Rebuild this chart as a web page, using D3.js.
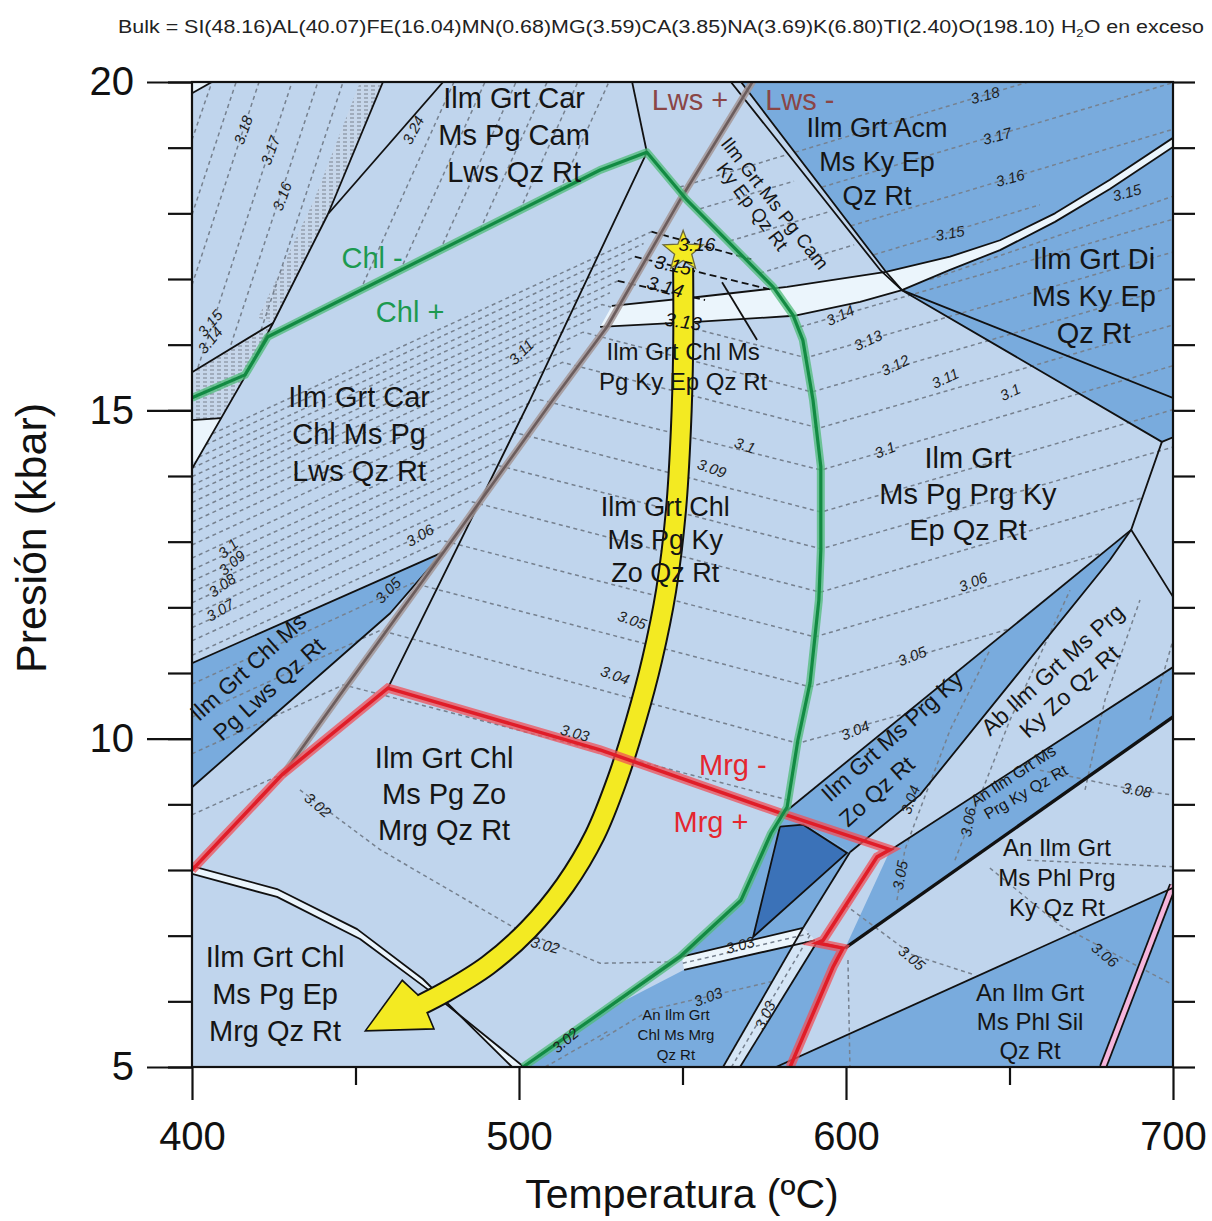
<!DOCTYPE html>
<html><head><meta charset="utf-8">
<script src="https://cdn.jsdelivr.net/npm/d3@7"></script>
<style>
html,body{margin:0;padding:0;background:#fff;}
svg{display:block;font-family:"Liberation Sans",Arial,Helvetica,sans-serif;}
</style></head><body>
<svg id="chart" width="1212" height="1221"></svg>
<script>
// ---------------- DATA (temperature °C, pressure kbar) ----------------
const tempTicks=[400,500,600,700];
const tempMinorTicks=[450,550,650];
const presTicks=[5,10,15,20];
const presMinorTicks=[5,6,7,8,9,10,11,12,13,14,15,16,17,18,19,20];

const regionAcm=[[567.9,20],[700,20],[700,19.15],[680.7,18.51],[663.9,18.00],[647.1,17.59],[631.8,17.34],[612.2,17.11]];
const regionDi=[[617.1,16.83],[631.8,17.14],[647.1,17.44],[663.9,17.87],[680.7,18.37],[700,19.01],[700,14.59],[696.6,14.52]];
const regionPrgKyZo=[[581.3,8.88],[687.2,13.18],[680.7,12.72],[622.6,9.14],[601.2,8.27]];
const regionAnPrgKy=[[613.5,8.30],[700,11.09],[700,10.33],[599.7,6.81]];
const regionPhlSil=[[578.6,5],[700,7.73],[700,5]];
const regionMid=[[581.3,8.88],[601.2,8.27],[586.9,7.12],[549.8,6.68],[567.9,7.54],[577.1,8.56]];
const regionDark=[[579.8,8.66],[586.9,8.69],[600.3,8.26],[571.6,6.98]];
const regionChlMrg=[[501.2,5],[524.8,5.82],[550.5,6.48],[585.3,6.90],[562.4,5]];
const regionRightStrip=[[591.1,6.90],[599.7,6.81],[596.0,6.52],[582.9,5],[567.6,5]];
const regionLwsWedge=[[400,11.15],[476.8,12.84],[460.6,11.91],[400,9.26]];

const bandKyUpper=[[528.4,16.59],[555.4,16.73],[582.0,16.88],[612.2,17.11],[631.8,17.34],[647.1,17.59],[663.9,18.00],[680.7,18.51],[700,19.15]];
const bandKyLower=[[524.8,16.27],[555.4,16.35],[584.1,16.44],[604.3,16.65],[617.1,16.83],[631.8,17.14],[647.1,17.44],[663.9,17.87],[680.7,18.37],[700,19.01]];
const bandLowUpper=[[400,8.06],[426.0,7.71],[450.5,7.10],[470.6,6.34],[497.9,5]];
const bandLowLower=[[400,7.94],[426.0,7.59],[451.4,6.95],[471.9,6.19],[501.5,5]];
const band303=[[549.8,6.68],[586.9,7.12],[590.5,6.93],[550.5,6.48]];
const strip303=[[586.9,7.12],[591.1,6.90],[567.6,5],[562.4,5]];
const cornerTri=[[400,20],[406.1,20],[400,19.83]];
const smallTri=[[400,14.85],[408.9,14.88],[401.5,14.24],[400,14.21]];
const pinkBand=[[678.6,5],[700,7.77]];
const hatchBand=[[451.4,20],[458.4,20],[441.6,17.99],[424.8,16.33],[420.2,16.41],[437.3,18.20]];
const hatchWedge=[[424.8,16.33],[400,15.58],[400,14.12],[415.6,15.46]];

const boundaries=[
 [[458.4,20],[441.6,17.99]],
 [[476.8,20],[441.6,17.99]],
 [[441.6,17.99],[424.8,16.33],[415.6,15.46],[400,14.11]],
 [[424.8,16.33],[400,15.58]],
 [[406.1,20],[400,19.83]],
 [[400,14.85],[408.9,14.88]],
 [[534.6,20],[539.1,18.93]],
 [[539.1,18.93],[503.4,15.16],[459.9,10.77]],
 [[564.8,20],[610.4,17.14],[617.1,16.83]],
 [[567.9,20],[612.2,17.11],[617.1,16.83]],
 bandKyUpper, bandKyLower,
 [[617.1,16.83],[700,15.19]],
 [[617.1,16.83],[696.6,14.52],[700,14.59]],
 [[696.6,14.52],[687.2,13.18],[700,12.16]],
 [[581.3,8.88],[687.2,13.18]],
 [[601.2,8.27],[622.6,9.14],[680.7,12.72],[687.2,13.18]],
 [[613.5,8.30],[700,11.09]],
 [[578.6,5],[700,7.73]],
 [[400,11.15],[476.8,12.84]],
 [[400,9.26],[460.6,11.91],[476.8,12.84]],
 [[476.8,12.84],[446.8,10.77],[427.8,9.45]],
 bandLowUpper, bandLowLower,
 [[601.2,8.27],[586.9,7.12]],
 [[549.8,6.68],[586.9,7.12]],
 [[550.5,6.48],[590.5,6.93]],
 [[586.9,7.12],[562.4,5]],
 [[591.1,6.90],[567.6,5]],
 [[591.1,6.90],[599.7,6.81]],
 [[581.3,8.88],[577.1,8.56],[567.9,7.54],[549.8,6.68],[524.8,5.82],[501.2,5]]
];
const boundaryThick=[[599.7,6.81],[700,10.33]];

const isopleths=[
 [[400,14.50],[540.5,17.72]],[[400,14.24],[535.4,17.34]],[[400,13.99],[530.2,16.97]],
 [[400,13.74],[525.4,16.61],[587.8,15.80],[700,17.41]],
 [[400,13.45],[519.6,16.19],[589.6,15.28],[700,16.88]],
 [[400,13.13],[513.3,15.73],[591.8,14.73],[700,16.30]],
 [[400,12.75],[505.7,15.17],[592.4,14.09],[700,15.68]],
 [[400,12.40],[498.8,14.66],[592.4,13.45],[700,15.01]],
 [[400,12.07],[492.1,14.18],[592.4,12.89],[700,14.44]],
 [[400,11.69],[484.5,13.62],[592.1,12.23],[690.8,13.67]],
 [[400,11.27],[476.4,13.02],[590.5,11.55],[678.6,12.83]],
 [[400,10.83],[467.5,12.37],[589.0,10.79],[649.8,11.67]],
 [[400,10.33],[457.6,11.65],[585.3,9.93],[618.0,10.38]],
 [[400,9.77],[446.3,10.82],[582.0,9.07]],
 [[400,14.38],[538.1,17.54]],[[400,14.12],[533.0,17.17]],[[400,13.86],[527.8,16.79]],
 [[400,13.60],[522.7,16.41]],[[400,13.30],[516.6,15.97]],[[400,12.95],[509.7,15.46]],
 [[400,12.57],[502.1,14.91]],[[400,12.23],[495.4,14.42]],[[400,11.88],[488.5,13.91]],
 [[400,11.49],[480.6,13.33]],
 [[585.9,16.27],[700,17.91]],[[625.7,16.99],[700,18.26]],
 [[400,19.12],[406.1,20]],[[400,17.98],[413.5,20]],[[400,16.91],[420.5,20]],
 [[401.8,15.65],[430.6,20]],[[411.9,16.00],[438.5,20]],[[421.1,16.22],[446.2,20]],
 [[451.4,16.82],[480.1,20]],[[463.6,17.12],[489.6,20]],[[475.8,17.43],[499.1,20]],
 [[488.1,17.75],[508.6,20]],[[500.3,18.05],[518.0,20]],[[512.5,18.36],[527.5,20]],
 [[549.2,18.40],[581.7,18.89]],[[555.4,18.07],[584.1,18.49]],
 [[564.5,17.58],[594.5,18.02]],[[573.7,17.09],[602.5,17.52]],
 [[584.4,18.93],[655.7,20]],[[592.7,18.40],[700,19.99]],
 [[601.5,17.81],[700,19.28]],[[608.6,17.37],[659.3,18.13]],
 [[433.0,9.22],[457.5,8.31],[498.2,7.13],[524.8,6.58],[546.8,6.60]],
 [[400,8.84],[427.5,9.46]],
 [[524.8,5.41],[540.1,5.87],[579.8,6.33]],
 [[508.0,5.0],[527.8,5.56]],
 [[599.7,7.47],[620.2,6.71],[639.5,6.40]],
 [[644.0,8.03],[665.4,7.16],[700,6.25]],
 [[659.3,9.52],[688.4,9.22],[700,9.14]],
 [[655.4,8.15],[700,8.05]],
 [[600.6,6.63],[601.2,5.0]],
 [[615.6,7.54],[618.0,8.31],[631.8,10.13],[644.0,11.35]],
 [[633.3,8.15],[650.2,10.29],[668.5,12.26]],
 [[673.1,9.22],[679.2,10.59],[689.9,12.11]],
 [[693.0,10.29],[700,11.50]]
];
const bandCenterDashed=[[[550.1,6.58],[588.7,7.03]],[[589.0,7.01],[565.0,5.0]]];
const blackDashed=[[[540.5,17.72],[571.0,17.30]],[[535.4,17.34],[577.7,16.83]],[[530.2,16.97],[556.9,16.68]]];
const leaderLine=[[562.1,16.95],[572.8,16.07]];

const lwsLine=[[572.6,20.1],[549.2,18.20],[526.9,16.27],[510.4,15.16],[476.8,12.83],[446.8,10.77],[427.8,9.45]];
const chlLine=[[400,15.19],[416.2,15.54],[423.2,16.12],[524.8,18.66],[539.1,18.93],[551.4,18.20],[577.7,16.88],[583.8,16.45],[586.8,16.07],[589.9,15.16],[592.3,14.14],[592.3,12.87],[591.7,12.11],[589.0,10.85],[585.3,9.98],[582.0,8.96],[577.1,8.56],[567.9,7.54],[549.2,6.68],[524.8,5.82],[501.2,5.0]];
const mrgLine=[[400,8.0],[427.5,9.45],[459.9,10.77],[524.8,9.83],[579.8,8.87],[613.5,8.31],[609.5,8.20],[593.0,6.93],[591.1,6.89],[599.1,6.81],[596.0,6.52],[582.9,5.0]];
const ptPath=[[550.2,17.17],[550.2,15.92],[549.5,14.70],[548.0,13.48],[545.0,12.26],[540.7,11.20],[535.8,10.28],[530.0,9.37],[523.2,8.53],[514.1,7.77],[502.8,7.09],[490.5,6.55],[477.4,6.14],[469.7,5.94]];
const arrowTip=[453.0,5.55], arrowBarbs=[[464.3,6.32],[474.0,5.58]];
const peakStar=[550.2,17.42];

const fieldLabels=[
 {t:498.5,p:19.19,lines:["Ilm Grt Car","Ms Pg Cam","Lws Qz Rt"],s:29,g:37},
 {t:609.5,p:18.78,lines:["Ilm Grt Acm","Ms Ky Ep","Qz Rt"],s:27,g:34},
 {t:675.8,p:16.74,lines:["Ilm Grt Di","Ms Ky Ep","Qz Rt"],s:29,g:37},
 {t:550.2,p:15.66,lines:["Ilm Grt Chl Ms","Pg Ky Ep Qz Rt"],s:24,g:30},
 {t:451.1,p:14.64,lines:["Ilm Grt Car","Chl Ms Pg","Lws Qz Rt"],s:29,g:37},
 {t:637.3,p:13.73,lines:["Ilm Grt","Ms Pg Prg Ky","Ep Qz Rt"],s:29,g:36},
 {t:544.7,p:13.03,lines:["Ilm Grt Chl","Ms Pg Ky","Zo Qz Rt"],s:27,g:33},
 {t:477.1,p:9.16,lines:["Ilm Grt Chl","Ms Pg Zo","Mrg Qz Rt"],s:29,g:36},
 {t:425.4,p:6.11,lines:["Ilm Grt Chl","Ms Pg Ep","Mrg Qz Rt"],s:29,g:37},
 {t:664.5,p:7.88,lines:["An Ilm Grt","Ms Phl Prg","Ky Qz Rt"],s:24,g:30},
 {t:656.3,p:5.69,lines:["An Ilm Grt","Ms Phl Sil","Qz Rt"],s:24,g:29},
 {t:548.0,p:5.49,lines:["An Ilm Grt","Chl Ms Mrg","Qz Rt"],s:15,g:20}
];
const rotatedLabels=[
 {t:561.5,p:19.06,a:52,s:19,txt:"Ilm Grt Ms Pg Cam"},
 {t:560.2,p:18.68,a:53,s:19,txt:"Ky Ep Qz Rt"},
 {t:402.1,p:10.25,a:-42,s:23,txt:"Ilm Grt Chl Ms"},
 {t:409.2,p:9.95,a:-42,s:23,txt:"Pg Lws Qz Rt"},
 {t:595.1,p:9.02,a:-42,s:23,txt:"Ilm Grt Ms Prg Ky"},
 {t:600.6,p:8.64,a:-42,s:23,txt:"Zo Qz Rt"},
 {t:644.0,p:10.03,a:-42,s:23,txt:"Ab Ilm Grt Ms Prg"},
 {t:655.7,p:9.99,a:-42,s:23,txt:"Ky Zo Qz Rt"},
 {t:639.5,p:8.96,a:-33,s:16,txt:"An Ilm Grt Ms"},
 {t:643.4,p:8.76,a:-30,s:16,txt:"Prg Ky Qz Rt"}
];
const lineLabels=[
 {t:455.1,p:17.32,txt:"Chl -",c:"#1c9a50"},{t:466.7,p:16.50,txt:"Chl +",c:"#1c9a50"},
 {t:565.4,p:9.60,txt:"Mrg -",c:"#e5262f"},{t:558.7,p:8.73,txt:"Mrg +",c:"#e5262f"},
 {t:552.3,p:19.73,txt:"Lws +",c:"#8a4646"},{t:585.9,p:19.73,txt:"Lws -",c:"#8a4646"}
];
const isoLabels=[
 [415.6,19.27,-70,"3.18"],[423.9,18.96,-70,"3.17"],[427.5,18.26,-70,"3.16"],[467.6,19.27,-62,"3.24"],
 [405.5,16.33,-50,"3.15"],[405.5,16.07,-50,"3.14"],[500.6,15.89,-45,"3.11"],
 [411.0,12.90,-40,"3.1"],[412.2,12.68,-40,"3.09"],[409.2,12.34,-35,"3.08"],[408.6,11.96,-30,"3.07"],
 [469.7,13.10,-30,"3.06"],[459.9,12.26,-45,"3.05"],
 [569.1,14.47,20,"3.1"],[559.0,14.12,20,"3.09"],[534.6,11.81,20,"3.05"],[529.4,10.97,20,"3.04"],[517.1,10.09,15,"3.03"],
 [438.5,8.99,40,"3.02"],[508.0,6.86,15,"3.02"],
 [598.2,16.45,-25,"3.14"],[606.7,16.07,-25,"3.13"],[615.0,15.69,-25,"3.12"],[630.3,15.49,-25,"3.11"],[650.2,15.28,-25,"3.1"],
 [611.9,14.40,-22,"3.1"],[638.8,12.39,-22,"3.06"],[620.2,11.26,-22,"3.05"],[602.8,10.13,-22,"3.04"],
 [642.5,19.80,-15,"3.18"],[646.2,19.18,-15,"3.17"],[650.2,18.54,-15,"3.16"],[631.8,17.70,-10,"3.15"],[685.9,18.32,-15,"3.15"],
 [619.6,9.07,-70,"3.04"],[637.3,8.73,-80,"3.06"],[616.5,7.92,-80,"3.05"],[689.0,9.22,10,"3.08"],
 [620.2,6.66,40,"3.05"],[679.2,6.71,40,"3.06"],
 [567.6,6.86,-15,"3.03"],[557.8,6.07,-20,"3.03"],[575.2,5.79,-65,"3.03"],[514.1,5.41,-40,"3.02"]
];
const starLabels=[[554.4,17.52,0,"3.16"],[547.1,17.21,12,"3.15"],[544.7,16.88,15,"3.14"],[550.2,16.35,8,"3.13"]];

// ---------------- DRAWING ----------------
const C={base:"#c0d5ed",mid:"#79abdd",dark:"#3b72b8",light:"#ebf5fc",strip:"#d4e5f5"};
const svg=d3.select("#chart");
const x=d3.scaleLinear().domain([400,700]).range([192,1173]);
const y=d3.scaleLinear().domain([5,20]).range([1067,82]);
const ln=d3.line().x(d=>x(d[0])).y(d=>y(d[1]));
const closed=p=>ln(p)+"Z";

const defs=svg.append("defs");
defs.append("clipPath").attr("id","plotClip").append("rect")
  .attr("x",x(400)).attr("y",y(20)).attr("width",x(700)-x(400)).attr("height",y(5)-y(20));
const pat=defs.append("pattern").attr("id","hatch").attr("patternUnits","userSpaceOnUse").attr("width",7).attr("height",4);
pat.append("rect").attr("width",7).attr("height",4).attr("fill","#c6d6ea");
pat.append("line").attr("x1",0).attr("y1",2).attr("x2",4).attr("y2",2).attr("stroke","#8c95a3").attr("stroke-width",1.3);

const plot=svg.append("g").attr("clip-path","url(#plotClip)");
plot.append("rect").attr("x",x(400)).attr("y",y(20)).attr("width",x(700)-x(400)).attr("height",y(5)-y(20)).attr("fill",C.base);
[regionAcm,regionDi,regionPrgKyZo,regionAnPrgKy,regionPhlSil,regionMid,regionChlMrg,regionRightStrip,regionLwsWedge]
 .forEach(r=>plot.append("path").attr("d",closed(r)).attr("fill",C.mid));
plot.append("path").attr("d",closed(regionDark)).attr("fill",C.dark);
[hatchBand,hatchWedge].forEach(r=>plot.append("path").attr("d",closed(r)).attr("fill","url(#hatch)"));

isopleths.forEach(p=>plot.append("path").attr("d",ln(p)).attr("fill","none")
  .attr("stroke","#76818f").attr("stroke-width",1.5).attr("stroke-dasharray","4,3.5"));

plot.append("path").attr("d",closed(bandKyUpper.concat(bandKyLower.slice().reverse()))).attr("fill",C.light);
plot.append("path").attr("d",closed(bandLowUpper.concat(bandLowLower.slice().reverse()))).attr("fill",C.light);
[band303,cornerTri,smallTri].forEach(r=>plot.append("path").attr("d",closed(r)).attr("fill",C.light));
plot.append("path").attr("d",closed(strip303)).attr("fill",C.strip);
bandCenterDashed.forEach(p=>plot.append("path").attr("d",ln(p)).attr("fill","none")
  .attr("stroke","#76818f").attr("stroke-width",1.5).attr("stroke-dasharray","4,3.5"));

plot.append("path").attr("d",ln(pinkBand)).attr("stroke","#111").attr("stroke-width",8).attr("fill","none");
plot.append("path").attr("d",ln(pinkBand)).attr("stroke","#f5b5dc").attr("stroke-width",4.5).attr("fill","none");

boundaries.forEach(p=>plot.append("path").attr("d",ln(p)).attr("fill","none").attr("stroke","#111").attr("stroke-width",1.8).attr("stroke-linejoin","round"));
plot.append("path").attr("d",closed(regionDark)).attr("fill","none").attr("stroke","#111").attr("stroke-width",1.8);
plot.append("path").attr("d",ln(boundaryThick)).attr("fill","none").attr("stroke","#111").attr("stroke-width",3.4);

blackDashed.forEach(p=>plot.append("path").attr("d",ln(p)).attr("fill","none").attr("stroke","#111").attr("stroke-width",1.8).attr("stroke-dasharray","7,4"));
plot.append("path").attr("d",ln(leaderLine)).attr("stroke","#111").attr("stroke-width",1.8);

// Lws reaction (grey)
plot.append("path").attr("d",ln(lwsLine)).attr("fill","none").attr("stroke","#a39696").attr("stroke-width",7).attr("opacity",0.85);
plot.append("path").attr("d",ln(lwsLine)).attr("fill","none").attr("stroke","#6c5d5d").attr("stroke-width",2.6);

// P-T path arrow
const pxPath=ptPath.map(d=>[x(d[0]),y(d[1])]);
const pl=d3.line().curve(d3.curveCatmullRom);
plot.append("path").attr("d",pl(pxPath)).attr("fill","none").attr("stroke","#111").attr("stroke-width",22);
const e=pxPath[pxPath.length-1], pv=pxPath[pxPath.length-2];
let dx=e[0]-pv[0], dy=e[1]-pv[1]; const L=Math.hypot(dx,dy); dx/=L; dy/=L;
const nx=-dy, ny=dx, bx=e[0]-dx*3, by=e[1]-dy*3;
const j1=[bx+nx*10,by+ny*10], j2=[bx-nx*10,by-ny*10];
const tip=[x(arrowTip[0]),y(arrowTip[1])], b1=[x(arrowBarbs[0][0]),y(arrowBarbs[0][1])], b2=[x(arrowBarbs[1][0]),y(arrowBarbs[1][1])];
const dist=(a,b)=>Math.hypot(a[0]-b[0],a[1]-b[1]);
const head = dist(j1,b1)<dist(j2,b1) ? [tip,b1,j1,j2,b2] : [tip,b1,j2,j1,b2];
plot.append("path").attr("d","M"+head.join("L")+"Z").attr("fill","#f3ea22").attr("stroke","#111").attr("stroke-width",1.6).attr("stroke-linejoin","miter");
plot.append("path").attr("d",pl(pxPath)).attr("fill","none").attr("stroke","#f3ea22").attr("stroke-width",18);

// Mrg (red) and Chl (green)
plot.append("path").attr("d",ln(mrgLine)).attr("fill","none").attr("stroke","#ef5058").attr("stroke-width",9).attr("opacity",0.75).attr("stroke-linejoin","miter");
plot.append("path").attr("d",ln(mrgLine)).attr("fill","none").attr("stroke","#e01d28").attr("stroke-width",3.5).attr("stroke-linejoin","miter");
plot.append("path").attr("d",ln(chlLine)).attr("fill","none").attr("stroke","#4fbb78").attr("stroke-width",8).attr("opacity",0.75).attr("stroke-linejoin","round");
plot.append("path").attr("d",ln(chlLine)).attr("fill","none").attr("stroke","#128a43").attr("stroke-width",3.2).attr("stroke-linejoin","round");

// Star (peak)
const sc=[x(peakStar[0]),y(peakStar[1])];
const starPts=d3.range(10).map(i=>{const r=i%2?9:21;const a=-Math.PI/2+i*Math.PI/5;return [sc[0]+r*Math.cos(a),sc[1]+r*Math.sin(a)];});
plot.append("path").attr("d","M"+starPts.join("L")+"Z").attr("fill","#f3ea22").attr("stroke","#6d6a3a").attr("stroke-width",1.3);

// Labels
const lab=svg.append("g").attr("fill","#151515");
fieldLabels.forEach(l=>{
  const n=l.lines.length;
  l.lines.forEach((s,i)=>lab.append("text").attr("x",x(l.t)).attr("y",y(l.p)+(i-(n-1)/2)*l.g)
    .attr("text-anchor","middle").attr("dominant-baseline","central").attr("font-size",l.s).text(s));
});
rotatedLabels.forEach(l=>lab.append("text").attr("transform",`translate(${x(l.t)},${y(l.p)}) rotate(${l.a})`)
  .attr("font-size",l.s).text(l.txt));
lineLabels.forEach(l=>lab.append("text").attr("x",x(l.t)).attr("y",y(l.p)).attr("text-anchor","middle")
  .attr("dominant-baseline","central").attr("font-size",29).attr("fill",l.c).text(l.txt));
isoLabels.forEach(l=>lab.append("text").attr("transform",`translate(${x(l[0])},${y(l[1])}) rotate(${l[2]})`)
  .attr("text-anchor","middle").attr("dominant-baseline","central").attr("font-size",15).attr("font-style","italic").attr("fill","#1e1e1e").text(l[3]));
starLabels.forEach(l=>lab.append("text").attr("transform",`translate(${x(l[0])},${y(l[1])}) rotate(${l[2]})`)
  .attr("text-anchor","middle").attr("dominant-baseline","central").attr("font-size",19).attr("font-style","italic").attr("fill","#111").text(l[3]));

// Frame and axes
svg.append("rect").attr("x",x(400)).attr("y",y(20)).attr("width",x(700)-x(400)).attr("height",y(5)-y(20))
  .attr("fill","none").attr("stroke","#111").attr("stroke-width",2.2);
function styleAxis(g){g.select(".domain").remove();g.selectAll("line").attr("stroke","#111").attr("stroke-width",2.2);
  g.selectAll("text").attr("font-size",40).attr("fill","#111").attr("font-family","Liberation Sans, Arial, sans-serif");}
svg.append("g").attr("transform",`translate(${x(400)},0)`).call(d3.axisLeft(y).tickValues(presMinorTicks).tickSize(24).tickFormat("")).call(styleAxis);
svg.append("g").attr("transform",`translate(${x(400)},0)`).call(d3.axisLeft(y).tickValues(presTicks).tickSize(45).tickPadding(13).tickFormat(d3.format("d"))).call(styleAxis);
svg.append("g").attr("transform",`translate(${x(700)},0)`).call(d3.axisRight(y).tickValues(presMinorTicks).tickSize(22).tickFormat("")).call(styleAxis);
svg.append("g").attr("transform",`translate(0,${y(5)})`).call(d3.axisBottom(x).tickValues(tempMinorTicks).tickSize(18).tickFormat("")).call(styleAxis);
svg.append("g").attr("transform",`translate(0,${y(5)})`).call(d3.axisBottom(x).tickValues(tempTicks).tickSize(33).tickPadding(22).tickFormat(d3.format("d"))).call(styleAxis);

svg.append("text").attr("x",682).attr("y",1208).attr("text-anchor","middle").attr("font-size",41).attr("fill","#111").text("Temperatura (ºC)");
svg.append("text").attr("transform","translate(46,538) rotate(-90)").attr("text-anchor","middle").attr("font-size",43).attr("fill","#111").text("Presión (kbar)");

const title=svg.append("text").attr("x",118).attr("y",33).attr("font-size",18).attr("fill","#222")
  .attr("textLength",1086).attr("lengthAdjust","spacingAndGlyphs");
title.append("tspan").text("Bulk = SI(48.16)AL(40.07)FE(16.04)MN(0.68)MG(3.59)CA(3.85)NA(3.69)K(6.80)TI(2.40)O(198.10) H");
title.append("tspan").attr("font-size",11).attr("dy",4).text("2");
title.append("tspan").attr("dy",-4).text("O en exceso");
</script>
</body></html>
